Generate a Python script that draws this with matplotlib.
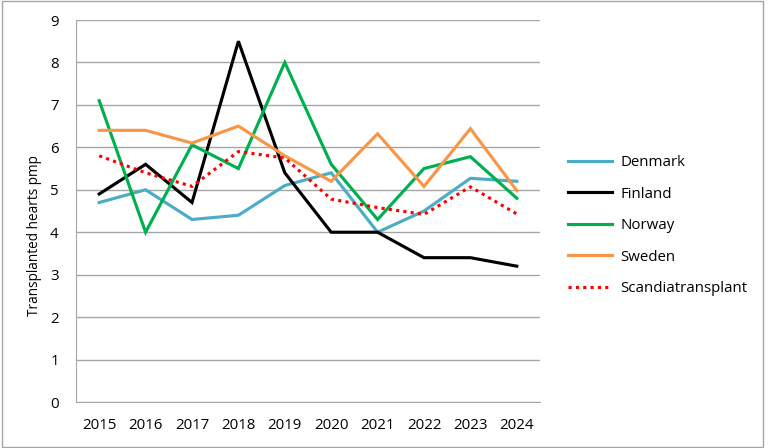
import matplotlib
matplotlib.use("Agg")
import matplotlib.pyplot as plt
from matplotlib.patches import Rectangle

years = ["2015", "2016", "2017", "2018", "2019", "2020", "2021", "2022", "2023", "2024"]
denmark = [4.7, 5.0, 4.3, 4.4, 5.1, 5.4, 4.0, 4.5, 5.27, 5.2]
finland = [4.9, 5.6, 4.7, 8.5, 5.4, 4.0, 4.0, 3.4, 3.4, 3.2]
norway = [7.1, 4.0, 6.06, 5.5, 8.0, 5.6, 4.3, 5.5, 5.78, 4.8]
sweden = [6.4, 6.4, 6.1, 6.5, 5.8, 5.2, 6.32, 5.08, 6.44, 4.98]
scandia = [5.8, 5.4, 5.08, 5.9, 5.75, 4.78, 4.58, 4.42, 5.07, 4.43]
yticks = [0, 1, 2, 3, 4, 5, 6, 7, 8, 9]

plt.rcParams['font.family'] = ['Open Sans', 'DejaVu Sans']

fig = plt.figure(figsize=(7.68, 4.48), dpi=100)
ax = fig.add_axes([76/768, 1-402/448, (540-76)/768, (402-20)/448])

x = list(range(len(years)))
lw = 2.25
ax.plot(x, denmark, color='#4BACC6', lw=lw, label='Denmark', solid_joinstyle='miter')
ax.plot(x, finland, color='#000000', lw=lw, label='Finland', solid_joinstyle='miter')
ax.plot(x, norway, color='#00B050', lw=lw, label='Norway', solid_joinstyle='miter')
ax.plot(x, sweden, color='#F79646', lw=lw, label='Sweden', solid_joinstyle='miter')
ax.plot(x, scandia, color='#FF0000', lw=lw, linestyle=(0, (1, 1.35)),
        dash_capstyle='butt', label='Scandiatransplant')

ax.set_xlim(-0.5, len(years) - 0.5)
ax.set_ylim(0, 9)
ax.set_yticks(yticks)
ax.set_xticks(x)
ax.set_xticklabels(years)
ax.grid(axis='y', color='#A6A6A6', lw=1.0)
ax.set_axisbelow(True)
for s in ['top', 'right']:
    ax.spines[s].set_visible(False)
ax.spines['left'].set_color('#A6A6A6')
ax.spines['bottom'].set_color('#A6A6A6')
ax.tick_params(axis='both', length=0, labelsize=10.8, colors='#000000')
ax.tick_params(axis='x', pad=11.5)
ax.tick_params(axis='y', pad=12.5)

fig.text(35/768, 1-236/448, 'Transplanted hearts pmp', rotation=90,
         ha='center', va='center', fontsize=9.8)

leg = ax.legend(loc='center left', bbox_to_anchor=(568/768, 1-225.5/448),
                bbox_transform=fig.transFigure, frameon=False, fontsize=10.8,
                handlelength=2.95, handletextpad=0.54, labelspacing=1.1,
                borderpad=0, borderaxespad=0)

fig.patches.append(Rectangle((1.5/768, 1.5/448), (762.5-1.5)/768, (446.5-1.5)/448,
                             transform=fig.transFigure, fill=False,
                             edgecolor='#A6A6A6', lw=1.0))

fig.savefig('out.png', dpi=100)
